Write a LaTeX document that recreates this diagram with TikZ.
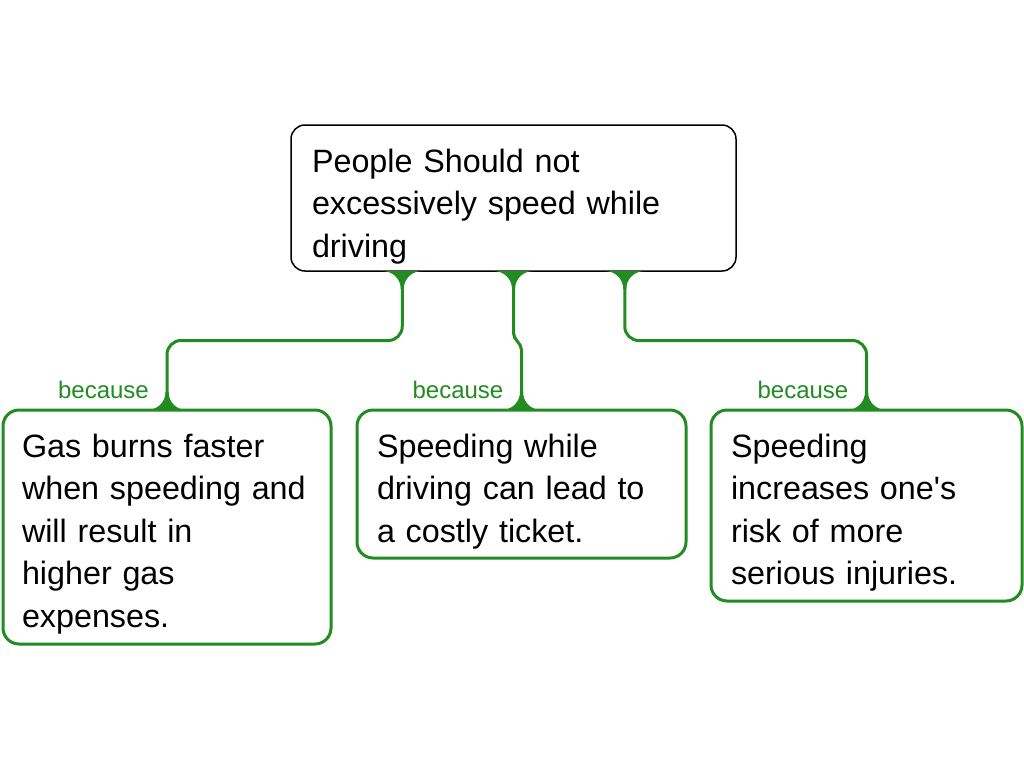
\documentclass[tikz,border=0pt]{standalone}
\usepackage{fontspec}
\setmainfont{Liberation Sans}
\usepackage{tikz}
\usetikzlibrary{positioning,calc}
\definecolor{fg}{RGB}{34,139,34}
\tikzstyle{card}=[draw=black, line width=1.5pt, rounded corners=14pt, fill=white,
    anchor=north west, inner ysep=0pt, outer sep=0pt, align=left,
    font=\fontsize{32.3}{42.5}\selectfont, text height=47pt]
\tikzstyle{reason}=[style=card, draw=fg, line width=3pt, rounded corners=16pt]
\tikzstyle{support}=[draw=fg, line width=3pt, rounded corners=14pt]
\tikzstyle{tag}=[text=fg, font=\fontsize{24}{28}\selectfont, anchor=base east, inner sep=0pt]
\newcommand{\footflare}[2]{%
  \fill[fg, shift={(#1)}, yscale=#2] (-20pt,0pt) .. controls (-9.5pt,0pt) and (-1.5pt,-8pt) .. (-1.5pt,-18pt)
    -- (1.5pt,-18pt) .. controls (1.5pt,-8pt) and (9.5pt,0pt) .. (20pt,0pt) -- cycle;}

\begin{document}
\begin{tikzpicture}[x=1pt, y=-1pt]
\useasboundingbox (0,0) rectangle (1024,768);
\node[card, minimum width=445pt, text width=403pt, inner xsep=21pt, text depth=99pt] (claim) at (291,125)
    {People Should not\\excessively speed while\\driving};
\node[reason, minimum width=328pt, text width=290pt, inner xsep=19pt, text depth=187pt] (gas) at (3,410)
    {Gas burns faster\\when speeding and\\will result in\\higher gas\\expenses.};
\node[reason, minimum width=329pt, text width=289pt, inner xsep=20pt, text depth=101pt] (ticket) at (357,410)
    {Speeding while\\driving can lead to\\a costly ticket.};
\node[reason, minimum width=311pt, text width=271pt, inner xsep=20pt, text depth=144pt] (injury) at (711,410)
    {Speeding\\increases one\textquotesingle s\\risk of more\\serious injuries.};
% attach points under the claim
\coordinate (c1) at ($(claim.south west)!0.25!(claim.south east)$);
\coordinate (c2) at ($(claim.south west)!0.5!(claim.south east)$);
\coordinate (c3) at ($(claim.south west)!0.75!(claim.south east)$);
\foreach \from/\to in {c1/gas, c3/injury}
  \draw[support] (\from) |- ($(\from)!0.5!(\to.north)$) -| (\to.north);
\draw[support, sharp corners] (c2) -- ($(c2)+(0,62)$) .. controls +(0pt,-7pt) and +(0pt,7pt)
    .. ($(ticket.north)+(0,-60)$) -- (ticket.north);
\foreach \from/\to in {c1/gas, c2/ticket, c3/injury} {
  \node[tag] (tag-\to) at ([xshift=-18pt, yshift=12pt]\to.north) {because};
  \footflare{\from}{1}
  \footflare{\to.north}{-1}
}
\end{tikzpicture}
\end{document}
